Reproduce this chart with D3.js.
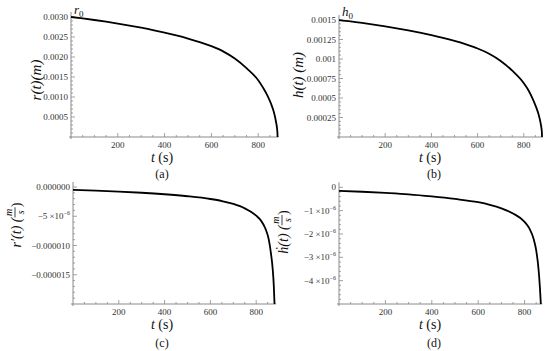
<!DOCTYPE html>
<html>
<head>
<meta charset="UTF-8">
<title>Shrinking droplet</title>
<style>
  body{ margin:0; background:#fff; }
  svg{ display:block; }
</style>
</head>
<body>
<svg></svg>
<script src="https://d3js.org/d3.v7.min.js"></script>
<script>

let width = 550, height = 351;

// (a) radius r(t) in m
let tA = [0, 50, 100, 150, 200, 250, 300, 350, 400, 450, 500, 550, 600, 650, 700, 750, 800, 820, 840, 855, 865, 872, 877, 880, 882, 883];
let rValues = [0.003000, 0.002965, 0.002925, 0.002882, 0.002836, 0.002786, 0.002732, 0.002674, 0.002610, 0.002540, 0.002462, 0.002374, 0.002270, 0.002140, 0.001960, 0.001720, 0.001420, 0.001240, 0.001030, 0.000830, 0.000660, 0.000500, 0.000350, 0.000240, 0.000120, 0.0];

// (b) height h(t) in m
let tB = [0, 50, 100, 150, 200, 250, 300, 350, 400, 450, 500, 550, 600, 650, 700, 750, 800, 820, 840, 855, 865, 872, 876, 878, 879];
let hValues = [0.001500, 0.001483, 0.001463, 0.001441, 0.001418, 0.001393, 0.001366, 0.001337, 0.001305, 0.001270, 0.001231, 0.001187, 0.001135, 0.001068, 0.000975, 0.000850, 0.000690, 0.000600, 0.000480, 0.000370, 0.000280, 0.000190, 0.000120, 0.000070, 0.0];

// (c) r'(t) in m/s
let tC = [0, 100, 200, 300, 400, 500, 600, 650, 700, 750, 800, 820, 840, 855, 865, 872, 877, 880];
let rDotValues = [-0.50e-6, -0.62e-6, -0.78e-6, -0.98e-6, -1.24e-6, -1.58e-6, -2.05e-6, -2.40e-6, -2.90e-6, -3.65e-6, -4.90e-6, -5.70e-6, -7.10e-6, -9.00e-6, -11.5e-6, -14.0e-6, -17.0e-6, -20.0e-6];

// (d) h'(t) in m/s
let tD = [0, 100, 200, 300, 400, 500, 600, 650, 700, 750, 800, 820, 840, 850, 860, 866, 870];
let hDotValues = [-0.15e-6, -0.19e-6, -0.24e-6, -0.30e-6, -0.39e-6, -0.50e-6, -0.64e-6, -0.75e-6, -0.90e-6, -1.12e-6, -1.48e-6, -1.75e-6, -2.25e-6, -2.70e-6, -3.50e-6, -4.30e-6, -5.00e-6];

// tick labels
let xTicks = [200, 400, 600, 800];
let yTicksA = [0.0005, 0.0010, 0.0015, 0.0020, 0.0025, 0.0030];
let yLabelsA = ["0.0005", "0.0010", "0.0015", "0.0020", "0.0025", "0.0030"];
let yTicksB = [0.00025, 0.0005, 0.00075, 0.001, 0.00125, 0.0015];
let yLabelsB = ["0.00025", "0.0005", "0.00075", "0.001", "0.00125", "0.0015"];
let yTicksC = [-0.000015, -0.000010, -0.000005, 0];
let yLabelsC = ["\u22120.000015", "\u22120.000010", ["\u22125 \u00d710", "\u22126"], "0.000000"];
let yTicksD = [-4e-6, -3e-6, -2e-6, -1e-6, 0];
let yLabelsD = [["\u22124 \u00d710", "\u22126"], ["\u22123 \u00d710", "\u22126"], ["\u22122 \u00d710", "\u22126"], ["\u22121 \u00d710", "\u22126"], "0"];

let svg = d3.select("svg")
    .attr("width", width)
    .attr("height", height)
    .attr("viewBox", "0 0 " + width + " " + height)
    .attr("font-family", "'Liberation Serif', 'Times New Roman', 'DejaVu Serif', serif");

let axisColor = "#8a8a8a";
let labelColor = "#333";

function drawPanel(p) {
    let g = svg.append("g");

    let x = d3.scaleLinear().domain([0, 900]).range([p.x0, p.x0 + 900 * p.kx]);
    let y = d3.scaleLinear().domain(p.yDomain).range([p.yBottom, p.yTop]);

    // axes lines
    g.append("line")
        .attr("x1", p.x0 - 2).attr("x2", x(p.tEnd) + 1)
        .attr("y1", p.yBottom).attr("y2", p.yBottom)
        .attr("stroke", axisColor).attr("stroke-width", 1);
    g.append("line")
        .attr("x1", p.x0).attr("x2", p.x0)
        .attr("y1", p.yBottom + 2).attr("y2", p.yTop - 5)
        .attr("stroke", axisColor).attr("stroke-width", 1);

    // x ticks: minor every 50, major every 200
    d3.range(50, p.tEnd, 50).forEach(t => {
        let major = t % 200 === 0;
        g.append("line")
            .attr("x1", x(t)).attr("x2", x(t))
            .attr("y1", p.yBottom).attr("y2", p.yBottom - (major ? 4 : 2))
            .attr("stroke", axisColor).attr("stroke-width", 0.8);
    });
    g.selectAll(".xl")
        .data(xTicks)
        .enter().append("text")
        .attr("x", d => x(d))
        .attr("y", p.yBottom + 11)
        .attr("text-anchor", "middle")
        .attr("font-size", 9)
        .attr("fill", labelColor)
        .text(d => d);

    // y ticks
    let n = Math.round((p.yDomain[1] - p.yDomain[0]) / p.yMinor);
    d3.range(1, n + 1).forEach(i => {
        let v = p.yDomain[0] + i * p.yMinor;
        let major = p.yTicks.some(tk => Math.abs(tk - v) < p.yMinor / 10);
        g.append("line")
            .attr("x1", p.x0).attr("x2", p.x0 + (major ? 4 : 2))
            .attr("y1", y(v)).attr("y2", y(v))
            .attr("stroke", axisColor).attr("stroke-width", 0.8);
    });
    p.yTicks.forEach((v, i) => {
        let lab = p.yLabels[i];
        let t = g.append("text")
            .attr("x", p.x0 - 3)
            .attr("y", y(v) + 3)
            .attr("text-anchor", "end")
            .attr("font-size", 9)
            .attr("fill", labelColor);
        if (Array.isArray(lab)) {
            t.append("tspan").text(lab[0]);
            t.append("tspan").attr("dy", -4).attr("font-size", 6).text(lab[1]);
        } else {
            t.text(lab);
        }
    });

    // curve
    let clipId = "clip" + p.name;
    svg.append("clipPath").attr("id", clipId)
        .append("rect")
        .attr("x", p.x0).attr("y", p.yTop - 3)
        .attr("width", 900 * p.kx).attr("height", p.yBottom - p.yTop + 3);

    let line = d3.line()
        .x((d, i) => x(p.t[i]))
        .y(d => y(d))
        .curve(d3.curveMonotoneX);

    g.append("path")
        .datum(p.values)
        .attr("clip-path", "url(#" + clipId + ")")
        .attr("d", line)
        .attr("fill", "none")
        .attr("stroke", "#000")
        .attr("stroke-width", 1.8);

    // x title t (s)
    let xt = g.append("text")
        .attr("x", p.xTitle[0]).attr("y", p.xTitle[1])
        .attr("text-anchor", "middle")
        .attr("font-size", 14)
        .attr("fill", "#111");
    xt.append("tspan").attr("font-style", "italic").text("t");
    xt.append("tspan").text(" (s)");

    // caption
    g.append("text")
        .attr("x", p.cap[0]).attr("y", p.cap[1])
        .attr("text-anchor", "middle")
        .attr("font-size", 12)
        .attr("fill", "#111")
        .text(p.caption);

    return {x: x, y: y, g: g};
}

// rotated y title built from pieces; a piece is text or a fraction [num, den]
function yTitle(cx, cy, parts) {
    let g = svg.append("g").attr("transform", "translate(" + cx + "," + cy + ") rotate(-90)");
    let cursor = 0;
    parts.forEach(pt => {
        if (pt.frac) {
            let num = g.append("text").attr("x", cursor).attr("y", -4)
                .attr("font-size", 10).attr("font-style", "italic").attr("fill", "#111").text(pt.frac[0]);
            let den = g.append("text").attr("x", cursor).attr("y", 8)
                .attr("font-size", 10).attr("font-style", "italic").attr("fill", "#111").text(pt.frac[1]);
            let w = Math.max(num.node().getComputedTextLength(), den.node().getComputedTextLength()) + 3;
            num.attr("x", cursor + (w - num.node().getComputedTextLength()) / 2);
            den.attr("x", cursor + (w - den.node().getComputedTextLength()) / 2);
            g.append("line").attr("x1", cursor).attr("x2", cursor + w)
                .attr("y1", -1).attr("y2", -1).attr("stroke", "#111").attr("stroke-width", 0.8);
            cursor += w;
        } else {
            let t = g.append("text").attr("x", cursor).attr("y", 5)
                .attr("font-size", pt.size || 15)
                .attr("font-style", pt.italic ? "italic" : "normal")
                .attr("fill", "#111")
                .text(pt.text);
            cursor += t.node().getComputedTextLength();
        }
    });
    g.selectAll("*").attr("transform", "translate(" + (-cursor / 2) + ",0)");
}

let pa = drawPanel({name: "a", x0: 71, kx: 0.234, tEnd: 883, yDomain: [0, 0.003], yBottom: 137, yTop: 17,
    yTicks: yTicksA, yLabels: yLabelsA, yMinor: 0.0001, t: tA, values: rValues,
    xTitle: [162, 162], cap: [162, 178], caption: "(a)"});
let pb = drawPanel({name: "b", x0: 339, kx: 0.231, tEnd: 879, yDomain: [0, 0.0015], yBottom: 137, yTop: 20,
    yTicks: yTicksB, yLabels: yLabelsB, yMinor: 0.00005, t: tB, values: hValues,
    xTitle: [430, 162], cap: [434, 178], caption: "(b)"});
let pc = drawPanel({name: "c", x0: 73, kx: 0.229, tEnd: 882, yDomain: [-0.00002, 0], yBottom: 304, yTop: 187,
    yTicks: yTicksC, yLabels: yLabelsC, yMinor: 0.000001, t: tC, values: rDotValues,
    xTitle: [162, 329], cap: [162, 347], caption: "(c)"});
let pd = drawPanel({name: "d", x0: 339, kx: 0.232, tEnd: 872, yDomain: [-0.000005, 0], yBottom: 304, yTop: 187.3,
    yTicks: yTicksD, yLabels: yLabelsD, yMinor: 0.0000002, t: tD, values: hDotValues,
    xTitle: [430, 329], cap: [434, 347], caption: "(d)"});

// r0 and h0 labels near the start of the curves
[[74, 14, "r"], [342, 16, "h"]].forEach(d => {
    let t = svg.append("text").attr("x", d[0]).attr("y", d[1])
        .attr("font-size", 13).attr("fill", "#111");
    t.append("tspan").attr("font-style", "italic").text(d[2]);
    t.append("tspan").attr("font-size", 9).attr("dy", 3).text("0");
});

yTitle(36, 80, [{text: "r(t)(m)", italic: true}]);
yTitle(298, 75, [{text: "h(t) (m)", italic: true}]);
yTitle(16, 225, [{text: "r\u2032(t) (", italic: true, size: 14}, {frac: ["m", "s"]}, {text: ")", size: 14}]);
yTitle(283, 232, [{text: "\u1e23(t) (", italic: true, size: 14}, {frac: ["m", "s"]}, {text: ")", size: 14}]);

</script>
</body>
</html>
